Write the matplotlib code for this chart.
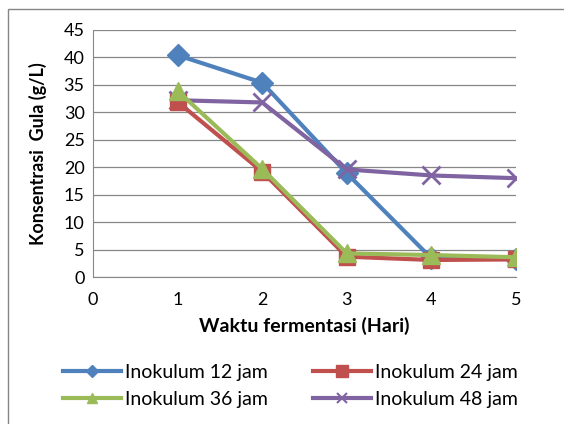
import numpy as np
import matplotlib.pyplot as plt
import matplotlib
plt.switch_backend('agg')
from matplotlib.lines import Line2D
from matplotlib.patches import Rectangle

plt.rcParams['font.family'] = ['Lato', 'DejaVu Sans']

hari = [1, 2, 3, 4, 5]
ino12 = [40.4, 35.4, 18.9, 3.4, 3.3]
ino24 = [31.9, 19.2, 3.7, 3.1, 3.2]
ino36 = [33.9, 19.7, 4.3, 4.0, 3.6]
ino48 = [32.2, 31.8, 19.6, 18.5, 18.0]
labels = ['Inokulum 12 jam', 'Inokulum 24 jam', 'Inokulum 36 jam', 'Inokulum 48 jam']

W, H = 564, 424
fig = plt.figure(figsize=(W/100, H/100), dpi=100)
ax = fig.add_axes([93/W, 1-277/H, (516-93)/W, (277-30)/H])

# chart frame
fig.patches.append(Rectangle((8/W, -0.1), 1.2, 1-9/H+0.1, transform=fig.transFigure,
                             fill=False, edgecolor='#868686', lw=1.0))

c12, c24, c36, c48 = '#4F81BD', '#C0504D', '#9BBB59', '#8064A2'
ax.plot(hari, ino12, color=c12, lw=3, marker='D', ms=11, zorder=1)
ax.plot(hari, ino24, color=c24, lw=3, marker='s', ms=11, zorder=3)
ax.plot(hari, ino36, color=c36, lw=3, marker='^', ms=13, zorder=4)
ax.plot(hari, ino48, color=c48, lw=3, marker='x', ms=13, mew=2, zorder=2)

ax.set_xlim(0, 5)
ax.set_ylim(0, 45)
ax.set_yticks(np.arange(0, 46, 5))
ax.set_xticks(range(6))
ax.grid(axis='y', color='#878787', lw=0.9)
ax.set_axisbelow(True)
for s in ['top', 'right']:
    ax.spines[s].set_visible(False)
ax.spines['left'].set_color('#878787')
ax.spines['bottom'].set_color('#878787')
ax.tick_params(length=0, labelsize=13, colors='black')
ax.tick_params(axis='x', pad=11)
ax.tick_params(axis='y', pad=6)
ax.set_xlabel('Waktu fermentasi (Hari)', fontsize=14, fontweight='bold', labelpad=6)
ax.set_ylabel('Konsentrasi  Gula (g/L)', fontsize=13, fontweight='bold', labelpad=12)

h12, h24, h36, h48 = [Line2D([], [], color=c, lw=3, marker=m, ms=s, mew=mw)
                      for c, m, s, mw in [(c12, 'D', 6, 1), (c24, 's', 9, 1),
                                          (c36, '^', 7, 1), (c48, 'x', 7, 1.5)]]
# column-wise fill: put 12/36 in first column, 24/48 in second
fig.legend([h12, h36, h24, h48], [labels[0], labels[2], labels[1], labels[3]],
           ncol=2, loc='center', bbox_to_anchor=(0.515, 1-386/H),
           frameon=False, fontsize=14, handlelength=3.0, handletextpad=0.2,
           columnspacing=2.3, labelspacing=0.5)

plt.savefig('out.png', dpi=100)
